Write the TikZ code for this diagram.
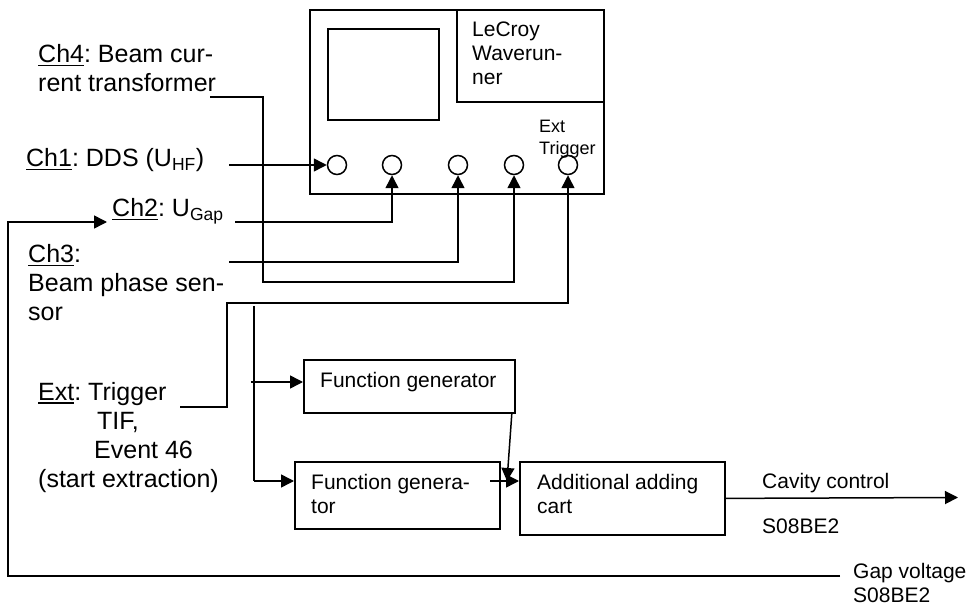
\documentclass[tikz,border=0pt]{standalone}
\usepackage{fontspec}
\setmainfont{Liberation Sans}
\usetikzlibrary{arrows.meta}
\frenchspacing
\newcommand\chu[1]{\setbox0=\hbox{#1}\rlap{\rule[-0.14em]{\wd0}{0.075em}}\box0}
\tikzset{
  ln/.style={line width=1.5pt},
  arr/.style={ln,-{Triangle[length=13pt,width=13pt]}},
  thickln/.style={line width=2.6pt},
  box/.style={draw,line width=1.8pt,inner sep=0pt,anchor=north west},
  big/.style={font=\fontsize{25}{29}\selectfont,inner sep=0pt,align=left,anchor=base west},
  mid/.style={font=\fontsize{21}{24}\selectfont,inner sep=0pt,align=left,anchor=base west},
  sml/.style={font=\fontsize{18}{22}\selectfont,inner sep=0pt,align=left,anchor=base west},
  port/.style={circle,draw,line width=1.5pt,minimum size=19pt,inner sep=0pt}
}
\begin{document}
\begin{tikzpicture}[x=1pt,y=-1pt]
\fill[white] (0,0) rectangle (972,609);
\useasboundingbox (0,0) rectangle (972,609);

% oscilloscope
\node[box,minimum width=294pt,minimum height=184pt] (osc) at (309,9) {};
\node[box,minimum width=111pt,minimum height=91pt] (screen) at (327,28) {};
\node[box,minimum width=147pt,minimum height=92pt] (namebox) at (456,9) {};
\node[mid] (lecroy) at (472,85) {LeCroy\\Waverun-\\ner};
\node[sml] (exttrig) at (539,155) {Ext\\Trigger};
\node[port] (c1) at (337,165) {};
\node[port] (c2) at (392,165) {};
\node[port] (c3) at (458,165) {};
\node[port] (c4) at (514,165) {};
\node[port] (c5) at (568,165) {};

% left labels (anchored at the baseline of the last line)
\node[big] (ch4) at (38,92) {\chu{Ch4}: Beam cur-\\rent transformer};
\node[big] (ch1) at (26,167) {\chu{Ch1}: DDS (U\textsubscript{HF})};
\node[big] (ch2) at (112,217) {\chu{Ch2}: U\textsubscript{Gap}};
\node[big] (ch3) at (28,321) {\chu{Ch3}:\\Beam phase sen-\\sor};
\node[big] (ext) at (38,487) {\chu{Ext}: Trigger\\\hspace*{59pt}TIF,\\\hspace*{56pt}Event 46\\(start extraction)};

% boxes
\node[box,minimum width=211pt,minimum height=53pt] (fg1) at (303,359) {};
\node[mid] (fg1t) at (320,388) {Function generator};
\node[box,minimum width=205pt,minimum height=67pt] (fg2) at (294,461) {};
\node[mid] (fg2t) at (311,513) {Function genera-\\tor};
\node[box,minimum width=205pt,minimum height=73pt] (add) at (519,461) {};
\node[mid] (addt) at (537,513) {Additional adding\\cart};
\node[mid] (cav) at (762,488) {Cavity control};
\node[mid] (cavs) at (762,533) {S08BE2};
\node[mid] (gap) at (853,602) {Gap voltage\\S08BE2};

% coordinates
\coordinate (ch1s) at (229,165);
\coordinate (ch2s) at (235,222);
\coordinate (ch3s) at (229,262);
\coordinate (ch4s) at (210,97);
\coordinate (ch4k) at (263,282);
\coordinate (exts) at (180,407);
\coordinate (extk) at (227,303);
\coordinate (tb) at (254,306);
\coordinate (tj) at (254,481);
\coordinate (fgin) at (251,382);
\coordinate (j) at (507,481);
\coordinate (fg2o) at (490,481);
\coordinate (cavend) at (958,497.5);
\coordinate (gaps) at (840,576);
\coordinate (gapk) at (8,222);
\coordinate (ch2in) at (107,222);

% connectors
\draw[arr] (ch1s) -- (c1.west);
\draw[arr] (ch2s) -| (c2.south);
\draw[arr] (ch3s) -| (c3.south);
\draw[arr] (ch4s) -| (ch4k) -| (c4.south);
\draw[arr] (exts) -| (extk) -| (c5.south);
\draw[thickln] (tb) -- (tj);
\draw[arr] (tj) -- (fg2.west |- tj);
\draw[arr] (fgin) -- (fg1.west |- fgin);
\draw[arr] ([xshift=-4pt]fg1.south east) -- (j);
\draw[arr] (fg2o) -- (add.west |- j);
\draw[arr] (add.east) -- (cavend);
\draw[arr] (gaps) -| (gapk) -- (ch2in);
\end{tikzpicture}
\end{document}
